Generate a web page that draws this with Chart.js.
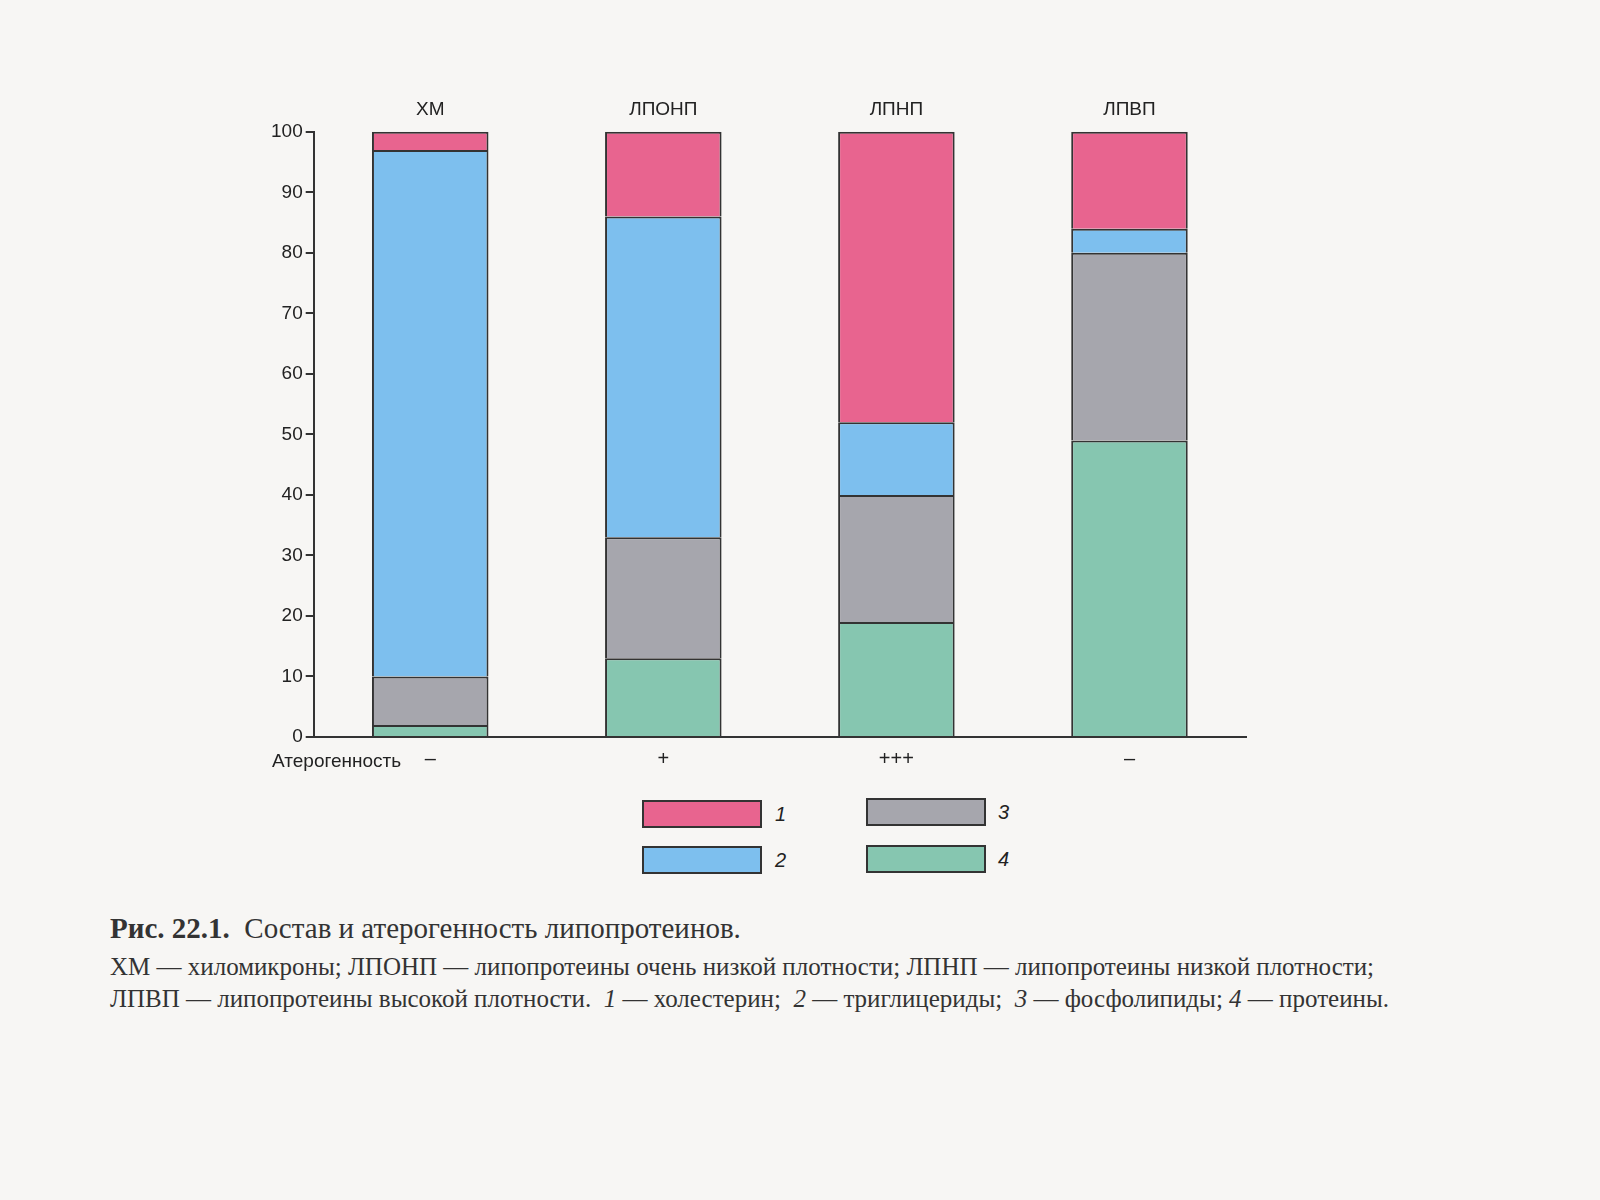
<!DOCTYPE html>
<html><head><meta charset="utf-8">
<script src="https://cdn.jsdelivr.net/npm/chart.js@4/dist/chart.umd.min.js"></script>
<style>
body{margin:0;background:#f7f6f4;width:1600px;height:1200px;position:relative;font-family:"Liberation Sans",Arial,sans-serif;overflow:hidden}
#wrap{position:absolute;left:268px;top:95px;width:1000px;height:678px}
.lg{position:absolute;width:116px;height:24px;border:2px solid #333}
.lt{position:absolute;font-style:italic;font-size:20px;color:#222}
#cap{position:absolute;left:110px;top:912px;width:1300px;font-family:"Liberation Serif","Times New Roman",serif;color:#333}
#ater{position:absolute;left:272px;top:750px;font-size:19px;color:#222}
</style></head><body>
<div id="wrap"><canvas id="c"></canvas></div>
<div id="ater">Атерогенность</div>
<div class="lg" style="left:642px;top:800px;background:#e8648f"></div><div class="lt" style="left:775px;top:803px">1</div>
<div class="lg" style="left:642px;top:846px;background:#7dbfee"></div><div class="lt" style="left:775px;top:849px">2</div>
<div class="lg" style="left:866px;top:798px;background:#a6a6ad"></div><div class="lt" style="left:998px;top:801px">3</div>
<div class="lg" style="left:866px;top:845px;background:#86c6b0"></div><div class="lt" style="left:998px;top:848px">4</div>
<div id="cap"><div style="font-size:29px"><b>Рис. 22.1.</b>&nbsp; Состав и атерогенность липопротеинов.</div>
<div style="font-size:25px;line-height:32px;margin-top:6px">ХМ — хиломикроны; ЛПОНП — липопротеины очень низкой плотности; ЛПНП — липопротеины низкой плотности; ЛПВП — липопротеины высокой плотности. &nbsp;<i>1</i> — холестерин; &nbsp;<i>2</i> — триглицериды; &nbsp;<i>3</i> — фосфолипиды; <i>4</i> — протеины.</div></div>
<script>
const categories=["ХМ","ЛПОНП","ЛПНП","ЛПВП"];
const atherogenicity=["–","+","+++","–"];
const proteins=[2,13,19,49];
const phospholipids=[8,20,21,31];
const triglycerides=[87,53,12,4];
const cholesterol=[3,14,48,16];
const yTicks=[0,10,20,30,40,50,60,70,80,90,100];
const ds=(l,d,c)=>({label:l,data:d,backgroundColor:c,borderColor:"#333",borderWidth:2,barPercentage:0.5,categoryPercentage:1});
new Chart(document.getElementById('c'),{type:'bar',
data:{labels:categories,datasets:[ds("4",proteins,"#86c6b0"),ds("3",phospholipids,"#a6a6ad"),ds("2",triglycerides,"#7dbfee"),ds("1",cholesterol,"#e8648f")]},
options:{responsive:true,maintainAspectRatio:false,animation:false,
layout:{padding:{right:22}},
plugins:{legend:{display:false},tooltip:{enabled:false}},
scales:{
x:{stacked:true,grid:{display:false},border:{color:"#333",width:2},ticks:{padding:2,callback:(v,i)=>atherogenicity[i],color:"#222",font:{size:20}}},
x2:{position:'top',grid:{display:false},border:{display:false},labels:categories,ticks:{color:"#222",font:{size:19}}},
y:{stacked:true,min:0,max:100,afterBuildTicks:a=>{a.ticks=yTicks.map(v=>({value:v}))},grid:{drawOnChartArea:false,drawTicks:true,tickLength:8,color:"#333",lineWidth:2},border:{color:"#333",width:2},ticks:{color:"#222",font:{size:19}}}
}}});
</script></body></html>
